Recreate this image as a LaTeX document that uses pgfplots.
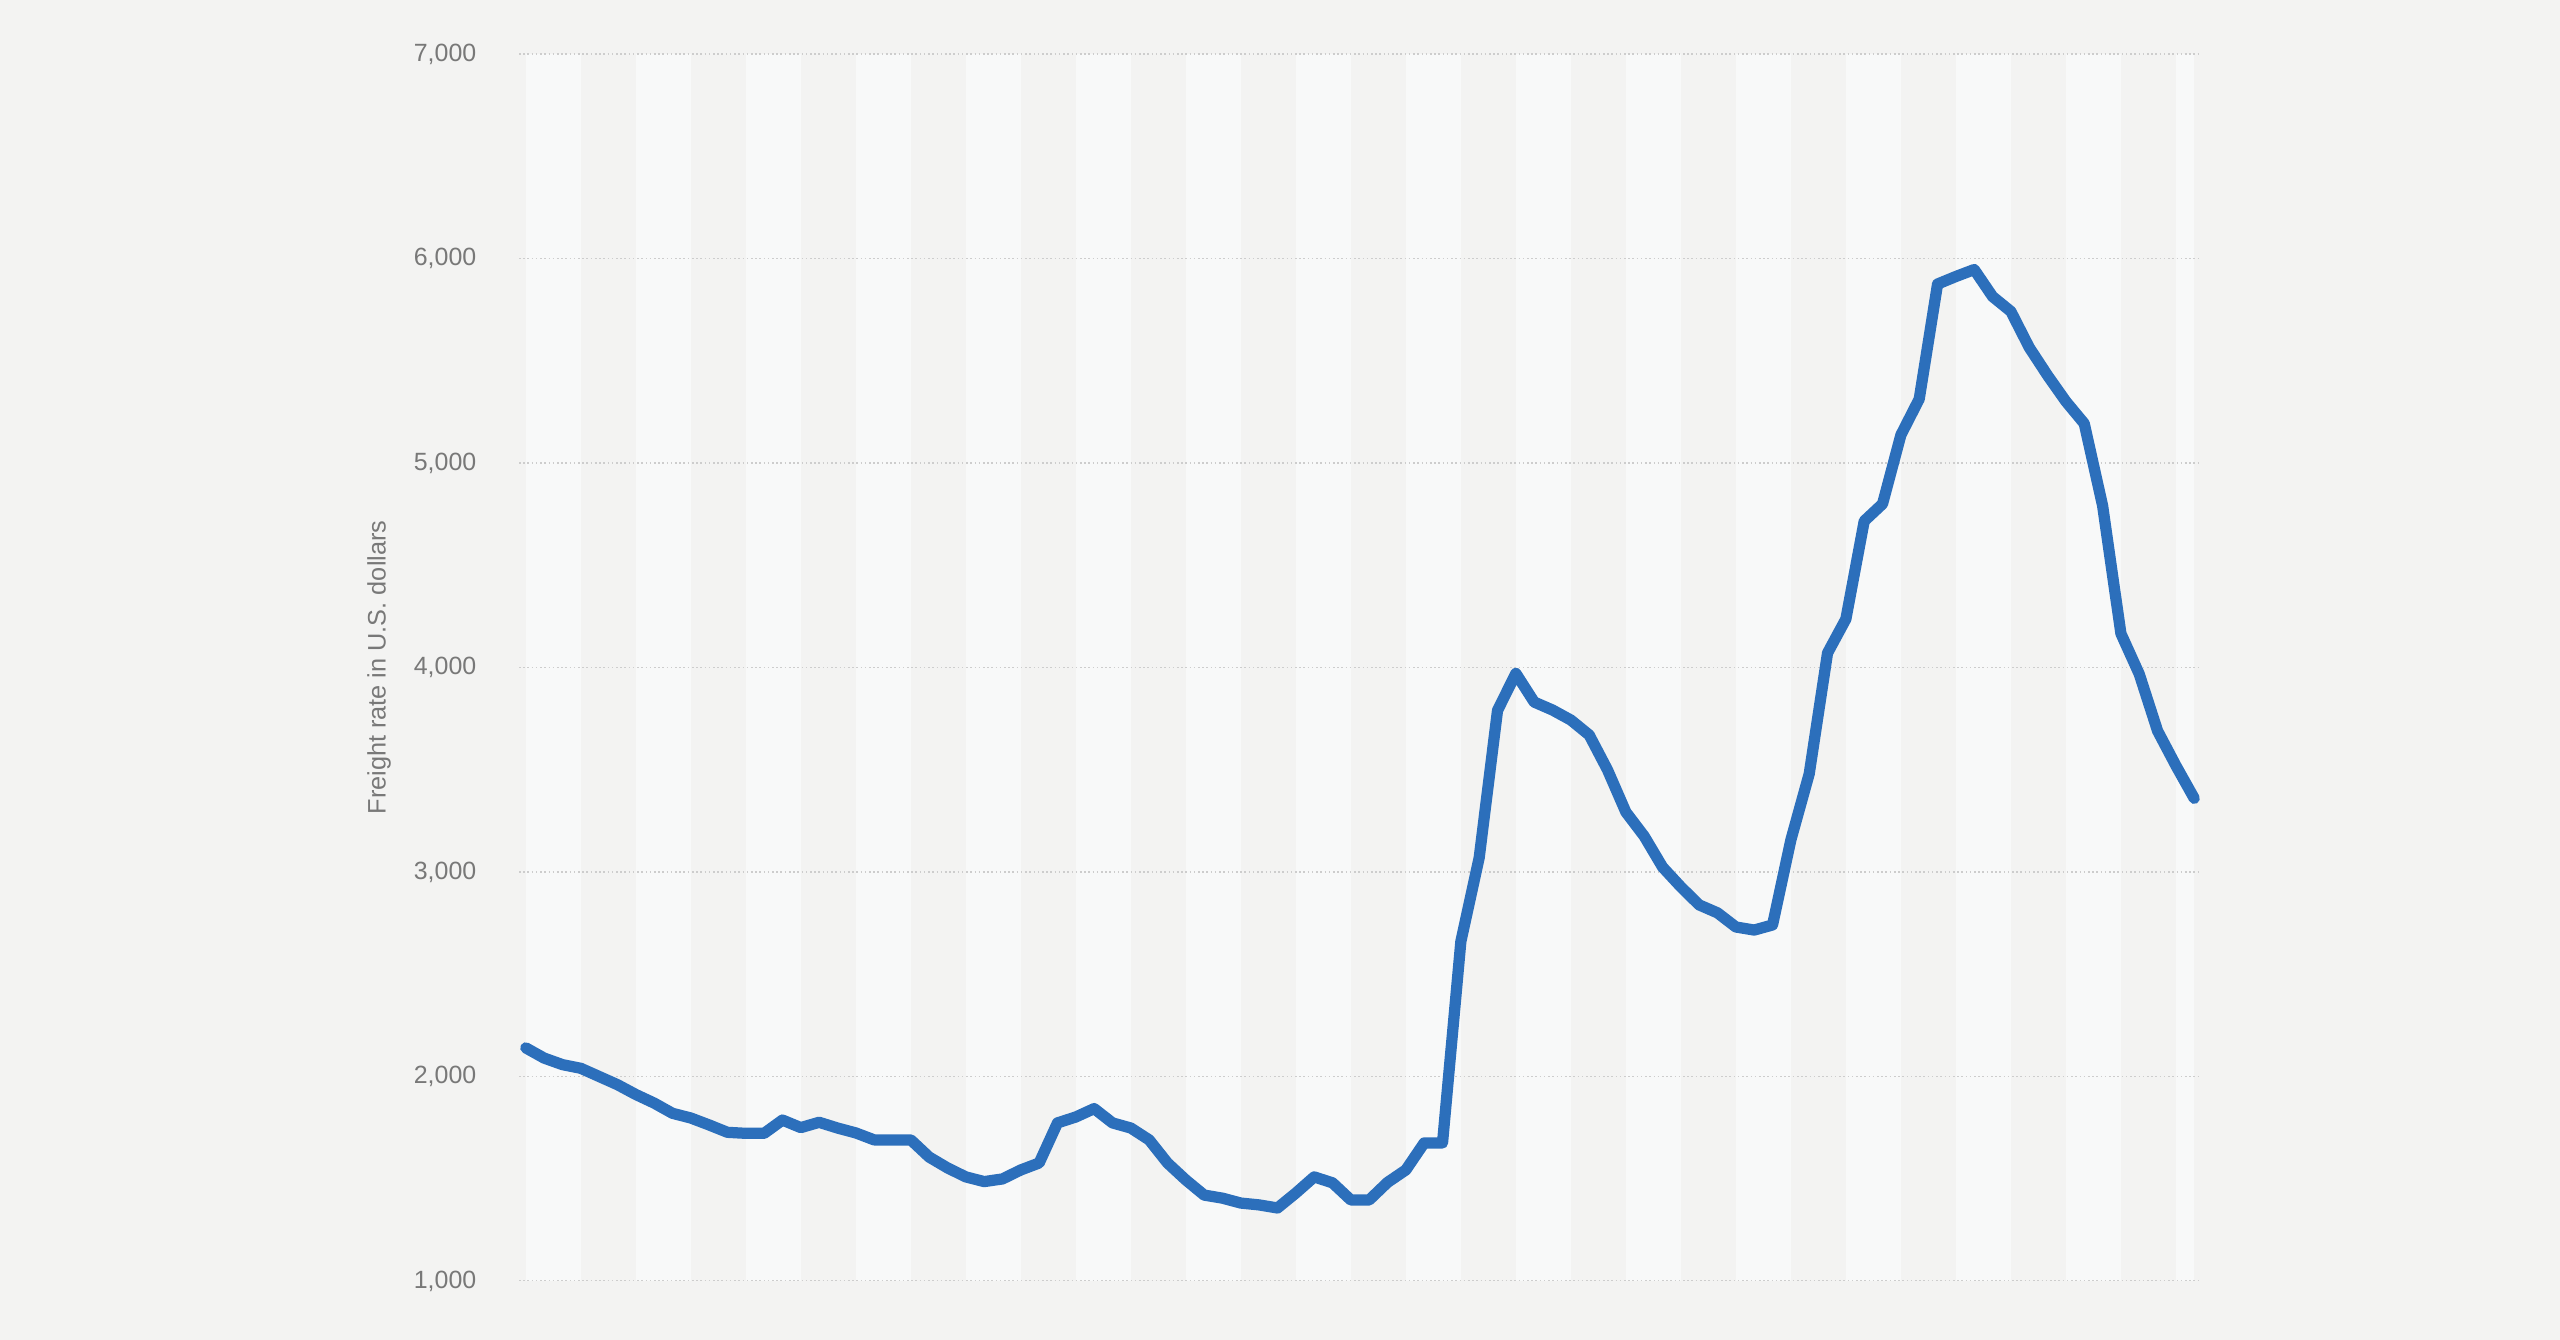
\documentclass[border=0pt]{standalone}
\usepackage{pgfplots}
\pgfplotsset{compat=1.18}
\usepackage{pgfplotstable}
\usepackage{fontspec}
\setmainfont{Liberation Sans}
\definecolor{bgc}{RGB}{243,243,242}
\definecolor{bandc}{RGB}{248,249,249}
\definecolor{gridc}{RGB}{205,205,205}
\definecolor{linec}{RGB}{44,111,187}
\definecolor{txtc}{RGB}{120,120,120}
\tikzset{gridln/.style={gridc, line width=0.45pt, dash pattern=on 0.45pt off 0.75pt}}
\pgfplotstableread{
x y
0 2140
1 2090
2 2058
3 2040
4 2000
5 1960
6 1912
7 1870
8 1820
9 1797
10 1763
11 1727
12 1722
13 1722
14 1787
15 1750
16 1776
17 1748
18 1724
19 1690
20 1690
21 1690
22 1606
23 1553
24 1509
25 1486
26 1499
27 1543
28 1577
29 1773
30 1802
31 1843
32 1773
33 1748
34 1690
35 1577
36 1494
37 1420
38 1405
39 1381
40 1372
41 1357
42 1430
43 1509
44 1480
45 1396
46 1396
47 1482
48 1543
49 1675
50 1675
51 2660
52 3070
53 3790
54 3971
55 3831
56 3792
57 3743
58 3670
59 3499
60 3293
61 3175
62 3024
63 2927
64 2839
65 2800
66 2731
67 2716
68 2741
69 3157
70 3480
71 4071
72 4237
73 4716
74 4800
75 5137
76 5313
77 5875
78 5912
79 5946
80 5814
81 5741
82 5565
83 5428
84 5301
85 5193
86 4792
87 4166
88 3968
89 3690
90 3520
91 3360
}\rates
\begin{document}
\begin{tikzpicture}
\fill[bgc] (0,0) rectangle (25.6cm,13.4cm);
\begin{axis}[
  at={(5.19cm,0.59cm)}, anchor=south west,
  scale only axis, width=16.82cm, height=12.27cm,
  xmin=-0.37, xmax=91.37, ymin=1000, ymax=7000,
  ytick={1000,2000,...,7000}, hide x axis,
  axis line style={draw=none}, major tick length=0pt,
  ytick style={draw=none},
  /pgf/number format/.cd, 1000 sep={,}, assume math mode=true,
  /pgfplots/.cd,
  yticklabel style={font=\fontsize{7.1}{8}\selectfont, text=txtc, inner sep=0pt, xshift=-0.42cm},
]
\fill[bandc] (axis cs:0,1000) rectangle (axis cs:3,7000);
\fill[bandc] (axis cs:6,1000) rectangle (axis cs:9,7000);
\fill[bandc] (axis cs:12,1000) rectangle (axis cs:15,7000);
\fill[bandc] (axis cs:18,1000) rectangle (axis cs:21,7000);
\fill[bandc] (axis cs:24,1000) rectangle (axis cs:27,7000);
\fill[bandc] (axis cs:30,1000) rectangle (axis cs:33,7000);
\fill[bandc] (axis cs:36,1000) rectangle (axis cs:39,7000);
\fill[bandc] (axis cs:42,1000) rectangle (axis cs:45,7000);
\fill[bandc] (axis cs:48,1000) rectangle (axis cs:51,7000);
\fill[bandc] (axis cs:54,1000) rectangle (axis cs:57,7000);
\fill[bandc] (axis cs:60,1000) rectangle (axis cs:63,7000);
\fill[bandc] (axis cs:66,1000) rectangle (axis cs:69,7000);
\fill[bandc] (axis cs:72,1000) rectangle (axis cs:75,7000);
\fill[bandc] (axis cs:78,1000) rectangle (axis cs:81,7000);
\fill[bandc] (axis cs:84,1000) rectangle (axis cs:87,7000);
\fill[bandc] (axis cs:90,1000) rectangle (axis cs:91,7000);
\draw[gridln] (axis cs:-0.37,1000) -- (axis cs:91.37,1000);
\draw[gridln] (axis cs:-0.37,2000) -- (axis cs:91.37,2000);
\draw[gridln] (axis cs:-0.37,3000) -- (axis cs:91.37,3000);
\draw[gridln] (axis cs:-0.37,4000) -- (axis cs:91.37,4000);
\draw[gridln] (axis cs:-0.37,5000) -- (axis cs:91.37,5000);
\draw[gridln] (axis cs:-0.37,6000) -- (axis cs:91.37,6000);
\draw[gridln] (axis cs:-0.37,7000) -- (axis cs:91.37,7000);
\addplot[linec, line width=3.2pt, line join=round, line cap=round, mark=none] table[x=x,y=y] {\rates};
\end{axis}
\node[rotate=90, anchor=center, font=\fontsize{7.2}{8}\selectfont, text=txtc] at (3.79cm,6.725cm) {Freight rate in U.S. dollars};
\end{tikzpicture}
\end{document}
